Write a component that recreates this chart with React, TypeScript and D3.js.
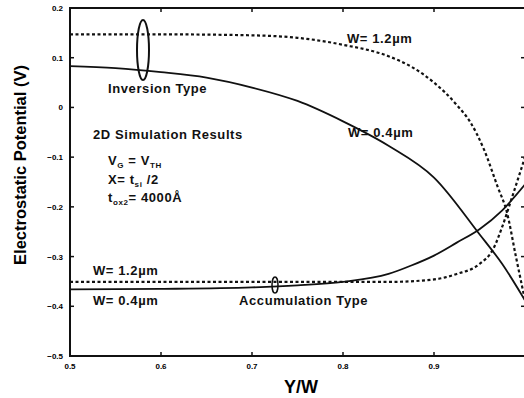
import React, { useEffect, useRef } from 'react';
import * as d3 from 'd3';

// Y/W positions shared by every curve
const invThinX = [0.5, 0.55, 0.6, 0.65, 0.7, 0.75, 0.8, 0.85, 0.9, 0.95, 0.975, 1.0];
const invThinY = [0.083, 0.079, 0.071, 0.06, 0.04, 0.013, -0.028, -0.077, -0.141, -0.255, -0.315, -0.388];

const invWideX = [0.5, 0.6, 0.7, 0.75, 0.8, 0.85, 0.875, 0.9, 0.925, 0.94, 0.955, 0.97, 0.98, 0.99, 1.0];
const invWideY = [0.147, 0.147, 0.145, 0.14, 0.126, 0.103, 0.082, 0.05, 0.005, -0.03, -0.085, -0.16, -0.21, -0.3, -0.388];

const accThinX = [0.5, 0.6, 0.7, 0.75, 0.8, 0.85, 0.875, 0.9, 0.925, 0.95, 0.975, 1.0];
const accThinY = [-0.366, -0.365, -0.362, -0.358, -0.351, -0.335, -0.318, -0.298, -0.272, -0.245, -0.207, -0.155];

const accWideX = [0.5, 0.6, 0.7, 0.8, 0.85, 0.9, 0.925, 0.95, 0.965, 0.975, 0.985, 1.0];
const accWideY = [-0.351, -0.351, -0.351, -0.351, -0.351, -0.346, -0.335, -0.315, -0.285, -0.24, -0.185, -0.1];

const xTicks = [0.5, 0.6, 0.7, 0.8, 0.9, 1.0];
const yTicks = [0.2, 0.1, 0, -0.1, -0.2, -0.3, -0.4, -0.5];

const FONT = "'Liberation Sans', Arial, sans-serif";

function App() {
  const svgRef = useRef<SVGSVGElement>(null);

  useEffect(() => {
    if (!svgRef.current) return;
    const svg = d3.select(svgRef.current);
    svg.selectAll('*').remove();

    const x = d3.scaleLinear().domain([0.5, 1.0]).range([70, 525]);
    const y = d3.scaleLinear().domain([-0.5, 0.2]).range([356, 8]);

    // frame
    svg.append('rect')
      .attr('x', x(0.5)).attr('y', y(0.2))
      .attr('width', x(1.0) - x(0.5)).attr('height', y(-0.5) - y(0.2))
      .attr('fill', 'none').attr('stroke', '#111').attr('stroke-width', 2);

    // inward ticks
    const tk = svg.append('g').attr('stroke', '#111').attr('stroke-width', 1.5);
    xTicks.slice(1, -1).forEach(t => {
      tk.append('line').attr('x1', x(t)).attr('x2', x(t)).attr('y1', y(-0.5)).attr('y2', y(-0.5) - 4);
      tk.append('line').attr('x1', x(t)).attr('x2', x(t)).attr('y1', y(0.2)).attr('y2', y(0.2) + 4);
    });
    yTicks.slice(1, -1).forEach(t => {
      tk.append('line').attr('x1', x(0.5)).attr('x2', x(0.5) + 4).attr('y1', y(t)).attr('y2', y(t));
      tk.append('line').attr('x1', x(1.0)).attr('x2', x(1.0) - 4).attr('y1', y(t)).attr('y2', y(t));
    });

    // tick labels
    svg.append('g')
      .attr('font-family', FONT).attr('font-size', 8).attr('font-weight', 'bold').attr('text-anchor', 'end')
      .selectAll('text').data(yTicks).join('text')
      .attr('x', 63).attr('y', d => y(d) + 3)
      .text(d => d === 0 ? '0' : d3.format('.1f')(d));
    svg.append('g')
      .attr('font-family', FONT).attr('font-size', 8).attr('font-weight', 'bold').attr('text-anchor', 'middle')
      .selectAll('text').data(xTicks.slice(0, -1)).join('text')
      .attr('x', d => x(d)).attr('y', 369)
      .text(d => d3.format('.1f')(d));

    // axis titles
    svg.append('text')
      .attr('transform', 'translate(26,165) rotate(-90)')
      .attr('text-anchor', 'middle').attr('font-family', FONT).attr('font-size', 16.5).attr('font-weight', 'bold')
      .text('Electrostatic Potential (V)');
    svg.append('text')
      .attr('x', 301).attr('y', 393).attr('text-anchor', 'middle')
      .attr('font-family', FONT).attr('font-size', 18).attr('font-weight', 'bold')
      .text('Y/W');

    // curves
    const line = d3.line<[number, number]>()
      .x(d => x(d[0])).y(d => y(d[1]))
      .curve(d3.curveMonotoneX);
    const curves = [
      { xs: invWideX, ys: invWideY, dash: '3,2.5' },
      { xs: invThinX, ys: invThinY, dash: null },
      { xs: accWideX, ys: accWideY, dash: '3,2.5' },
      { xs: accThinX, ys: accThinY, dash: null },
    ];
    curves.forEach(c => {
      svg.append('path')
        .datum(c.xs.map((v, i) => [v, c.ys[i]] as [number, number]))
        .attr('d', line)
        .attr('fill', 'none').attr('stroke', '#111')
        .attr('stroke-width', c.dash ? 2.2 : 1.8)
        .attr('stroke-dasharray', c.dash);
    });

    // ellipses marking the groups
    svg.append('ellipse').attr('cx', 143).attr('cy', 50).attr('rx', 6).attr('ry', 30)
      .attr('fill', 'none').attr('stroke', '#111').attr('stroke-width', 2);
    svg.append('ellipse').attr('cx', 275).attr('cy', 285).attr('rx', 3).attr('ry', 8)
      .attr('fill', 'none').attr('stroke', '#111').attr('stroke-width', 1.5);

    // annotations
    const ann = svg.append('g')
      .attr('font-family', FONT).attr('font-size', 13).attr('font-weight', 'bold')
      .attr('letter-spacing', 0.6).attr('fill', '#111');
    ann.append('text').attr('x', 108).attr('y', 93).text('Inversion Type');
    ann.append('text').attr('x', 239).attr('y', 305).text('Accumulation Type');
    ann.append('text').attr('x', 347).attr('y', 43).text('W= 1.2µm');
    ann.append('text').attr('x', 348).attr('y', 137).text('W= 0.4µm');
    ann.append('text').attr('x', 93).attr('y', 275).text('W= 1.2µm');
    ann.append('text').attr('x', 93).attr('y', 305).text('W= 0.4µm');
    ann.append('text').attr('x', 93).attr('y', 139).text('2D Simulation Results');

    const t1 = ann.append('text').attr('x', 108).attr('y', 165);
    t1.append('tspan').text('V');
    t1.append('tspan').attr('font-size', 8).attr('dy', 3).text('G');
    t1.append('tspan').attr('dy', -3).text(' = V');
    t1.append('tspan').attr('font-size', 8).attr('dy', 3).text('TH');

    const t2 = ann.append('text').attr('x', 108).attr('y', 184);
    t2.append('tspan').text('X= t');
    t2.append('tspan').attr('font-size', 8).attr('dy', 3).text('si');
    t2.append('tspan').attr('dy', -3).text(' /2');

    const t3 = ann.append('text').attr('x', 108).attr('y', 202);
    t3.append('tspan').text('t');
    t3.append('tspan').attr('font-size', 8).attr('dy', 3).text('ox2');
    t3.append('tspan').attr('dy', -3).text('= 4000Å');

    return () => { svg.selectAll('*').remove(); };
  }, []);

  return (
    <svg ref={svgRef} width={524} height={398}
      style={{ position: 'absolute', left: 0, top: 0, background: '#fff' }} />
  );
}

export default App;
